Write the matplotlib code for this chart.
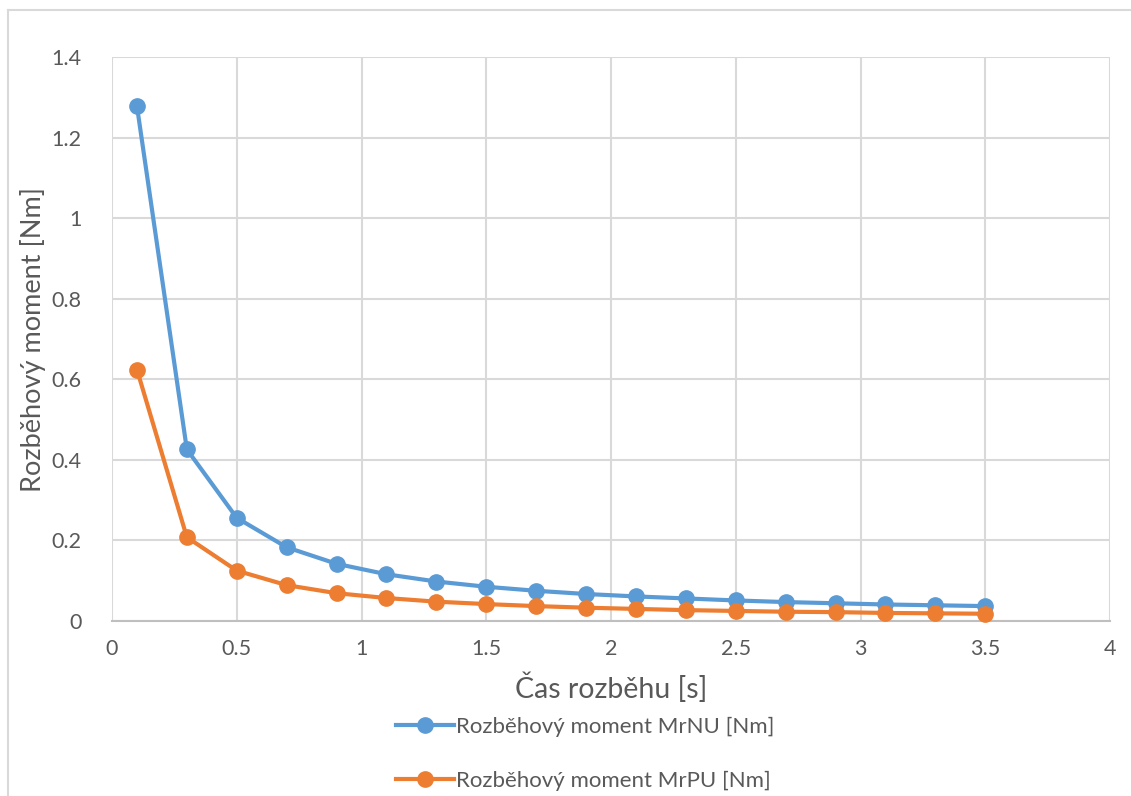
import matplotlib.pyplot as plt
from matplotlib.lines import Line2D

plt.rcParams['font.family'] = ['Lato', 'DejaVu Sans']

# Data
cas = [0.1, 0.3, 0.5, 0.7, 0.9, 1.1, 1.3, 1.5, 1.7, 1.9,
       2.1, 2.3, 2.5, 2.7, 2.9, 3.1, 3.3, 3.5]
mr_nu = [1.278, 0.426, 0.256, 0.183, 0.142, 0.116, 0.098, 0.085, 0.075,
         0.067, 0.061, 0.056, 0.051, 0.047, 0.044, 0.041, 0.039, 0.037]
mr_pu = [0.624, 0.208, 0.125, 0.089, 0.069, 0.057, 0.048, 0.042, 0.037,
         0.033, 0.030, 0.027, 0.025, 0.023, 0.022, 0.020, 0.019, 0.018]
x_ticks = [0, 0.5, 1, 1.5, 2, 2.5, 3, 3.5, 4]
x_labels = ['0', '0.5', '1', '1.5', '2', '2.5', '3', '3.5', '4']
y_ticks = [0, 0.2, 0.4, 0.6, 0.8, 1.0, 1.2, 1.4]
y_labels = ['0', '0.2', '0.4', '0.6', '0.8', '1', '1.2', '1.4']

blue = '#5b9bd5'
orange = '#ed7d31'
grey_txt = '#595959'

fig = plt.figure(figsize=(11.31, 7.96), dpi=100)
ax = fig.add_axes([112 / 1131, 1 - 621 / 796, (1110 - 112) / 1131, (621 - 57) / 796])

# chart border (only top and left are visible in the crop)
fig.add_artist(Line2D([8 / 1131, 8 / 1131], [0, 1 - 10 / 796], transform=fig.transFigure,
                      color='#d9d9d9', lw=1.5))
fig.add_artist(Line2D([8 / 1131, 1], [1 - 10 / 796, 1 - 10 / 796], transform=fig.transFigure,
                      color='#d9d9d9', lw=1.5))

ax.plot(cas, mr_nu, color=blue, lw=3, marker='o', ms=11, label='Rozběhový moment MrNU [Nm]',
        clip_on=False, zorder=3)
ax.plot(cas, mr_pu, color=orange, lw=3, marker='o', ms=11, label='Rozběhový moment MrPU [Nm]',
        clip_on=False, zorder=3)

ax.set_xlim(0, 4)
ax.set_ylim(0, 1.4)
ax.set_xticks(x_ticks)
ax.set_xticklabels(x_labels)
ax.set_yticks(y_ticks)
ax.set_yticklabels(y_labels)
ax.grid(True, color='#d9d9d9', lw=1.5)
ax.set_axisbelow(True)
for s in ['top', 'right', 'left']:
    ax.spines[s].set_visible(False)
ax.spines['bottom'].set_color('#bfbfbf')
ax.spines['bottom'].set_linewidth(1.5)
ax.tick_params(length=0, labelsize=15.5, labelcolor=grey_txt, pad=13)
ax.tick_params(axis='y', pad=22)

ax.set_xlabel('Čas rozběhu [s]', fontsize=20.5, color=grey_txt, labelpad=10)
ax.set_ylabel('Rozběhový moment [Nm]', fontsize=19.5, color=grey_txt, labelpad=4)

leg = ax.legend(loc='upper left', bbox_to_anchor=(376 / 1131, 1 - 697 / 796),
                bbox_transform=fig.transFigure, frameon=False, fontsize=16,
                labelspacing=1.5, handlelength=2.6, handletextpad=0.1, markerscale=1.0)
for t in leg.get_texts():
    t.set_color(grey_txt)

fig.savefig('out.png', dpi=100, facecolor='white')
